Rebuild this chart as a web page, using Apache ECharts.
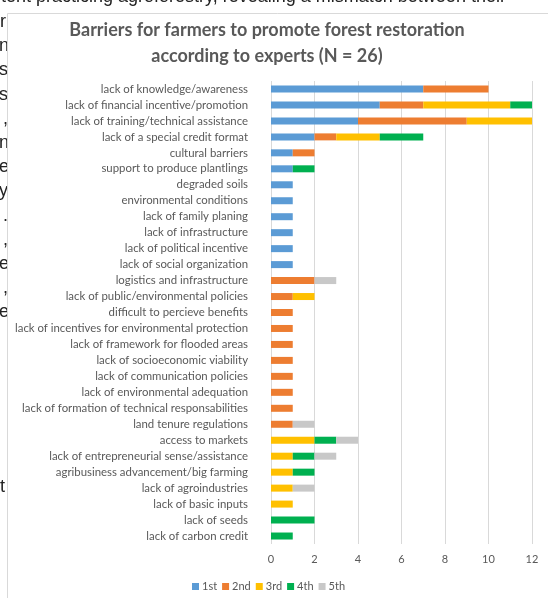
<!DOCTYPE html>
<html>
<head>
<meta charset="utf-8">
<script src="https://cdn.jsdelivr.net/npm/echarts@6/dist/echarts.min.js"></script>
<style>
html,body{margin:0;padding:0;background:#fff;}
#chart{width:548px;height:598px;}
</style>
</head>
<body>
<div id="chart"></div>
<script>
const categories = [
  "lack of knowledge/awareness",
  "lack of financial incentive/promotion",
  "lack of training/technical assistance",
  "lack of a special credit format",
  "cultural barriers",
  "support to produce plantlings",
  "degraded soils",
  "environmental conditions",
  "lack of family planing",
  "lack of infrastructure",
  "lack of political incentive",
  "lack of social organization",
  "logistics and infrastructure",
  "lack of public/environmental policies",
  "difficult to percieve benefits",
  "lack of incentives for environmental protection",
  "lack of framework for flooded areas",
  "lack of socioeconomic viability",
  "lack of communication policies",
  "lack of environmental adequation",
  "lack of formation of technical responsabilities",
  "land tenure regulations",
  "access to markets",
  "lack of entrepreneurial sense/assistance",
  "agribusiness advancement/big farming",
  "lack of agroindustries",
  "lack of basic inputs",
  "lack of seeds",
  "lack of carbon credit"
];
const seriesNames = ["1st", "2nd", "3rd", "4th", "5th"];
const first  = [7,5,4,2,1,1,1,1,1,1,1,1,0,0,0,0,0,0,0,0,0,0,0,0,0,0,0,0,0];
const second = [3,2,5,1,1,0,0,0,0,0,0,0,2,1,1,1,1,1,1,1,1,1,0,0,0,0,0,0,0];
const third  = [0,4,3,2,0,0,0,0,0,0,0,0,0,1,0,0,0,0,0,0,0,0,2,1,1,1,1,0,0];
const fourth = [0,1,0,2,0,1,0,0,0,0,0,0,0,0,0,0,0,0,0,0,0,0,1,1,1,0,0,2,1];
const fifth  = [0,0,0,0,0,0,0,0,0,0,0,0,1,0,0,0,0,0,0,0,0,1,1,1,0,1,0,0,0];
const xTicks = [0, 2, 4, 6, 8, 10, 12];
const titleLines = ["Barriers for farmers to promote forest restoration", "according to experts (N = 26)"];
const bgTopLine = "tent practicing agroforestry, revealing a mismatch between their";
const bgLetters = ["r","n","s","s\u2019",",","n","e","y",".",",","e",",","e"];
const bgLastLetter = "t";

const colors = ["#5B9BD5", "#ED7D31", "#FFC000", "#00B050", "#C8C8C8"];
const allValues = [first, second, third, fourth, fifth];

const chart = echarts.init(document.getElementById('chart'), null, {renderer: 'canvas'});

const bgTexts = [];
bgTexts.push({
  type: 'text', x: 1, y: 6,
  style: {text: bgTopLine, font: '18px "Liberation Sans", Arial, sans-serif', fill: '#222', textAlign: 'left', textVerticalAlign: 'bottom'}
});
bgLetters.forEach(function (ch, i) {
  const xo = (ch === '.' || ch === ',') ? 3 : (ch === 'r' ? 0 : -1);
  bgTexts.push({
    type: 'text', x: xo, y: 22 + i * 24.2,
    style: {text: ch, font: '18px "Liberation Sans", Arial, sans-serif', fill: '#222', textAlign: 'left', textVerticalAlign: 'middle'}
  });
});
bgTexts.push({
  type: 'text', x: 0, y: 487,
  style: {text: bgLastLetter, font: '18px "Liberation Sans", Arial, sans-serif', fill: '#222', textAlign: 'left', textVerticalAlign: 'middle'}
});
bgTexts.push({
  type: 'rect', z: 10, shape: {x: 7.5, y: 13.5, width: 6, height: 600},
  style: {fill: '#fff', stroke: null}
});
bgTexts.push({
  type: 'polyline', z: 11, shape: {points: [[7.5, 598], [7.5, 13.5], [548, 13.5]]},
  style: {stroke: '#D9D9D9', lineWidth: 1, fill: null}
});

const option = {
  animation: false,
  backgroundColor: '#fff',
  title: {
    text: titleLines.join('\n'),
    left: 267,
    top: 17,
    padding: 0,
    textAlign: 'center',
    textStyle: {
      fontFamily: 'Lato, "Open Sans", sans-serif',
      fontWeight: 'bold',
      fontSize: 18,
      color: '#595959',
      lineHeight: 26
    }
  },
  legend: {
    data: seriesNames,
    bottom: 6,
    left: 192,
    padding: 0,
    itemWidth: 7,
    itemHeight: 7,
    itemGap: 5,
    icon: 'rect',
    textStyle: {fontFamily: 'Lato, sans-serif', fontSize: 11, color: '#595959', padding: [0, 0, 0, -2]}
  },
  grid: {left: 271, right: 16, top: 81, bottom: 54, containLabel: false},
  xAxis: {
    type: 'value',
    min: xTicks[0],
    max: xTicks[xTicks.length - 1],
    interval: xTicks[1] - xTicks[0],
    axisLine: {show: false},
    axisTick: {show: false},
    splitLine: {show: true, lineStyle: {color: '#D9D9D9', width: 1}},
    axisLabel: {color: '#595959', fontFamily: 'Lato, sans-serif', fontSize: 11, margin: 10}
  },
  yAxis: {
    type: 'category',
    inverse: true,
    data: categories,
    axisLine: {show: false},
    axisTick: {show: false},
    axisLabel: {color: '#595959', fontFamily: 'Lato, sans-serif', fontSize: 11.4, margin: 23}
  },
  graphic: bgTexts,
  series: seriesNames.map(function (name, k) {
    return {
      name: name,
      type: 'bar',
      stack: 'total',
      barWidth: 7,
      itemStyle: {color: colors[k]},
      data: allValues[k].map(function (v) { return v === 0 ? '-' : v; })
    };
  })
};
chart.setOption(option);
</script>
</body>
</html>
